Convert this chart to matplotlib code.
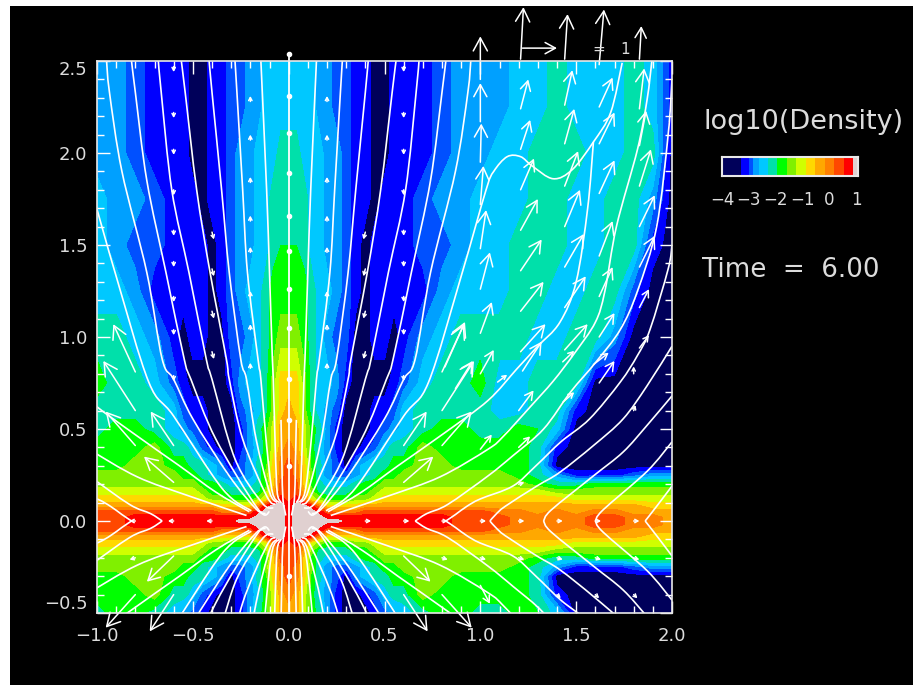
import numpy as np
import matplotlib
matplotlib.use("Agg")
import matplotlib.pyplot as plt
from matplotlib.patches import PathPatch, Rectangle
from matplotlib.path import Path

# Density table: colour band number (0 = navy ... 14 = grey)
# one quadrant only, x >= 0 and y >= 0, the other quadrants are mirrored
grid_x = [0, .04, .08, .12, .16, .2, .25, .3, .35, .4, .45, .5, .55, .6, .7, .8, .9, 1.0, 1.1, 1.2, 1.3, 1.4, 1.5,
          1.6, 1.7, 1.8, 1.9, 2.0]
grid_y = [0, .02, .05, .08, .12, .16, .2, .25, .3, .4, .5, .6, .75, 1.0, 1.25, 1.5, 1.75, 2.0, 2.25, 2.5]
density_band = [
    [13, 14, 14, 14, 14, 14, 14, 13, 13, 13, 13, 13, 13, 13, 13, 13, 12, 12, 12, 11, 11, 11, 11, 12, 12, 11, 11, 10],
    [13, 14, 14, 14, 14, 13, 13, 13, 13, 13, 13, 13, 13, 13, 13, 13, 12, 12, 12, 11, 11, 11, 11, 12, 12, 11, 11, 10],
    [13, 14, 14, 14, 13, 12, 11, 11, 11, 12, 12, 12, 12, 12, 12, 12, 12, 12, 11, 11, 10, 11, 10, 11, 11, 10, 10, 10],
    [13, 14, 14, 13, 11, 9, 9, 9, 9, 10, 10, 10, 10, 10, 10, 10, 10, 10, 10, 10, 10, 10, 10, 10, 10, 10, 9, 9],
    [12, 13, 11, 8, 7, 6, 6, 6, 7, 7, 8, 9, 9, 9, 9, 9, 9, 9, 9, 9, 9, 9, 8, 8, 8, 8, 8, 8],
    [12, 12, 10, 7, 5, 5, 5, 5, 6, 6, 7, 8, 8, 8, 8, 8, 8, 8, 8, 8, 8, 7, 7, 7, 7, 7, 7, 7],
    [12, 12, 9, 6, 5, 4, 4, 4, 5, 6, 6, 7, 7, 7, 7, 7, 7, 7, 7, 7, 6, 5, 5, 6, 6, 6, 6, 6],
    [12, 11, 9, 7, 4, 3, 2, 2, 3, 4, 5, 6, 6, 7, 7, 7, 7, 7, 7, 6, 5, 3, 1, 1, 1, 2, 3, 3],
    [12, 11, 9, 6, 5, 3, 2, 0, 3, 4, 5, 5, 6, 6, 7, 7, 6, 6, 6, 6, 5, 0, 0, 0, 0, 0, 0, 0],
    [11, 10, 8, 6, 4, 3, 1, 0, 0, 1, 2, 4, 5, 5, 7, 6, 6, 6, 6, 6, 5, 1, 0, 0, 0, 0, 0, 0],
    [10, 10, 8, 6, 5, 3, 1, 0, 0, 0, 1, 2, 3, 4, 5, 6, 6, 5, 5, 6, 5.5, 4, 0, 0, 0, 0, 0, 0],
    [10, 9, 7, 5, 4, 3, 2, 0, 0, 0, 1, 1, 2, 4, 5, 5, 5, 5, 4, 4, 5, 5, 1, 0, 0, 0, 0, 0],
    [9, 9, 7, 5, 4, 4, 3, 1, 0, 0, 0, 0, 1, 2, 4, 5, 5, 6, 4, 4, 5, 5, 5, 0, 0, 0, 0, 0],
    [7, 7, 6, 5, 4, 3, 2, 2, 0, 0, 1, 1, 0, 1, 3, 4, 5, 5, 5, 5, 4, 4, 5, 5, 3, 0, 0, 0],
    [6, 6, 6, 5, 4, 4, 3, 2, 1, 0, 1, 1, 1, 1, 1, 3, 4, 4, 4, 5, 5, 4, 4, 5, 5, 2, 0, 0],
    [5.5, 5.5, 5, 4, 4, 3, 3, 2, 1, 0, 1, 1, 1, 1, 2, 2, 3, 4, 4, 5, 5, 5, 4, 4, 5, 5, 1, 0],
    [5, 5, 5, 4, 4, 3, 3, 2, 1, 1, 0, 1, 1, 1, 2, 3, 3, 4, 4, 4, 5, 5, 4, 4, 5, 5, 3, 0],
    [5, 5, 4, 4, 4, 3, 3, 2, 1, 1, 0, 0, 1, 1, 1, 2, 3, 3, 4, 4, 5, 5, 5, 4, 4, 5, 5, 0],
    [4, 4, 4, 4, 3, 3, 2, 2, 1, 1, 0, 0, 1, 1, 1, 2, 3, 3, 3, 4, 4, 5, 4, 4, 4, 5, 4, 1],
    [4, 4, 4, 4, 3, 3, 2, 2, 1, 1, 0, 0, 1, 1, 1, 2, 3, 3, 3, 4, 4, 5, 4, 4, 4, 5, 4, 1],
]
band_colors = ["#00005a", "#0000ff", "#0050ff", "#00a0ff", "#00c8ff", "#00e0aa", "#00ff00", "#80f000", "#d0ff00",
               "#ffd800", "#ffa800", "#ff8000", "#ff4800", "#ff0000", "#e0d0d0"]
# Edges of the colour bands on the colour bar, log10(Density)
band_edges = [-4, -3.3, -3.0, -2.85, -2.63, -2.3, -1.95, -1.59, -1.24, -0.89, -0.53, -0.18, 0.18, 0.53, 0.88, 1.06]
bar_ticks = [-4, -3, -2, -1, 0, 1]

# Field lines in the upper right quadrant, as (x, y)
field_lines = [
    [(.015, .03), (.03, .12), (.035, .3), (.04, .55)],
    [(.145, 2.5), (.115, 1.8), (.10, 1.35), (.085, .88), (.08, .77), (.07, .4), (.06, .157), (.04, .1)],
    [(.28, 2.5), (.27, 2.33), (.24, 1.8), (.215, 1.35), (.16, .88), (.145, .77), (.115, .41), (.085, .157), (.05, .1)],
    [(.415, 2.5), (.40, 2.33), (.35, 1.8), (.31, 1.35), (.25, .88), (.22, .77), (.17, .445), (.10, .157), (.06, .1)],
    [(.56, 2.5), (.54, 2.33), (.48, 1.8), (.41, 1.35), (.325, .88), (.31, .77), (.24, .445), (.115, .136), (.07, .09)],
    [(.68, 2.5), (.665, 2.33), (.61, 1.8), (.52, 1.35), (.43, .88), (.40, .77), (.28, .337), (.14, .10), (.08, .07)],
    [(.82, 2.5), (.80, 2.33), (.74, 1.85), (.64, 1.35), (.545, .88), (.51, .77), (.38, .445), (.16, .065), (.10, .05)],
    [(.95, 2.5), (.935, 2.33), (.87, 1.9), (.74, 1.35), (.66, .88), (.60, .77), (.50, .555), (.31, .245), (.17, .065),
     (.12, .04)],
    [(.195, .055), (.345, .174), (.60, .57), (.73, .755), (.90, 1.33), (1.03, 1.80), (1.07, 1.90), (1.14, 1.98),
     (1.21, 1.98), (1.27, 1.93), (1.38, 1.86), (1.48, 1.91), (1.59, 2.06), (1.68, 2.22), (1.74, 2.49)],
    [(.205, .05), (.38, .157), (.57, .30), (.815, .48), (1.04, .655), (1.19, .826), (1.295, .945),
     (1.415, 1.08), (1.50, 1.3), (1.56, 1.7), (1.59, 2.06)],
    [(.22, .03), (.52, .136), (.79, .24), (1.04, .39), (1.12, .46), (1.26, .62), (1.38, .76), (1.49, .91), (1.60, 1.08),
     (1.65, 1.25), (1.71, 1.6), (1.82, 2.02), (1.87, 2.29), (1.895, 2.5)],
    [(.66, 0), (.72, .04), (.83, .09), (1.04, .245), (1.17, .355), (1.33, .50), (1.47, .70), (1.60, .86), (1.73, 1.04),
     (1.82, 1.25), (1.92, 1.6), (1.98, 2.1), (2.0, 2.4)],
    [(.82, 0), (.87, .035), (.93, .08), (1.0, .12), (1.17, .19), (1.29, .30), (1.42, .43), (1.57, .555), (1.73, .755),
     (1.82, .90), (1.885, 1.04), (1.98, 1.37), (2.0, 1.5)],
    [(1.05, 0), (1.08, .035), (1.13, .08), (1.295, .19), (1.415, .265), (1.59, .41), (1.745, .555), (1.87, .735),
     (2.0, .95)],
    [(1.33, 0), (1.37, .06), (1.59, .245), (1.745, .375), (1.87, .52), (2.0, .68)],
    [(1.6, 0), (1.64, .06), (1.87, .27), (2.0, .43)],
    [(1.86, 0), (1.92, .08), (2.0, .19)],
]

# Velocity arrows: tail x, tail y, u, v
arrows_right = [
    (1.0, 2.40, 0, .234), (1.0, 2.17, 0, .21), (1.0, 1.95, .005, .21), (1.0, 1.72, .016, .21), (1.0, 1.48, .03, .21),
    (1.0, 1.26, .05, .2), (1.0, 1.02, .06, .17), (1.0, .80, .07, .13),
    (1.21, 2.51, .015, .283), (1.21, 2.24, .04, .16), (1.21, 2.02, .05, .16), (1.21, 1.80, .07, .17),
    (1.21, 1.58, .09, .17), (1.21, 1.36, .11, .17), (1.21, 1.14, .12, .16), (1.21, .92, .13, .15),
    (1.44, 2.51, .015, .245), (1.44, 2.26, .04, .19), (1.44, 2.05, .05, .19), (1.44, 1.82, .07, .19),
    (1.44, 1.60, .08, .2), (1.44, 1.38, .1, .18), (1.44, 1.16, .11, .17), (1.44, .93, .12, .14),
    (1.62, 2.48, .025, .30), (1.62, 2.25, .07, .16), (1.62, 2.05, .08, .17), (1.62, 1.78, .08, .18),
    (1.62, 1.44, .07, .19), (1.62, 1.22, .07, .16), (1.62, 1.0, .08, .13), (1.62, .75, .08, .12),
    (1.83, 2.51, .01, .18), (1.83, 2.24, .025, .22), (1.83, 2.04, .035, .19), (1.83, 1.82, .06, .2),
    (1.83, 1.60, .08, .17), (1.83, 1.38, .08, .17), (1.83, 1.16, .05, .1), (1.83, .94, .05, .07),
    (1.2, .60, .078, .11), (1.0, .39, .06, .08), (1.2, .40, .06, .06), (1.09, .755, .05, .04), (1.22, .815, .10, .16),
    (1.43, .865, .06, .06), (1.43, .645, .06, .055), (1.59, .85, .08, .065), (.815, .837, .105, .245),
    (.87, .72, .09, .15), (1.0, -.35, .05, -.1),
]
# These ones are also drawn on the left side
arrows_both = [
    (.6, .41, .12, .185), (.8, .41, .155, .185), (.6, .21, .155, .14), (.8, .6, .167, .27), (.8, .81, .115, .26),
    (.6, -.19, .14, -.14), (.6, -.40, .125, -.2), (.8, -.40, .155, -.18),
]
tiny_arrows = [
    (.2, 2.28, 0, .03), (.2, 2.07, 0, .03), (.2, 1.84, 0, .03), (.2, 1.63, 0, .03), (.2, 1.46, 0, .03),
    (.2, 1.22, 0, .03), (.2, 1.04, 0, .03), (.2, .83, 0, .03),
    (.4, 1.57, -.01, -.04), (.4, 1.37, -.01, -.04), (.4, 1.14, -.01, -.04), (.4, .92, -.01, -.04),
    (.6, 2.47, 0, -.03), (.6, 2.22, 0, -.03), (.6, 2.02, 0, -.03), (.6, 1.80, 0, -.03), (.6, 1.58, 0, -.03),
    (.6, 1.41, 0, -.03), (.6, 1.22, 0, -.03), (.6, 1.04, 0, -.03), (.6, .79, 0, -.03),
    (.4, 0, .03, 0), (.6, 0, .03, 0), (.8, 0, .03, 0), (.8, -.2, .03, -.01),
]
tiny_right = [
    (1.0, 0, .03, 0), (1.2, 0, .03, 0), (1.4, 0, .03, 0), (1.6, 0, .03, 0), (1.8, 0, .03, 0), (1.0, -.2, .03, -.01),
    (1.2, -.2, .03, -.01), (1.4, -.2, .03, -.01), (1.6, -.2, .03, -.01), (1.8, -.2, .03, -.01), (1.4, -.4, .02, -.02),
    (1.6, -.4, .02, -.02), (1.8, -.4, .02, -.02), (1.2, .2, .03, .01), (1.8, .6, .01, .03), (1.8, .8, .0, .04),
]
center_dots_y = [2.54, 2.31, 2.11, 1.89, 1.66, 1.47, 1.26, 1.05, .77, .55, .3, -.3]

x_ticks = [-1.0, -0.5, 0.0, 0.5, 1.0, 1.5, 2.0]
y_ticks = [-0.5, 0.0, 0.5, 1.0, 1.5, 2.0, 2.5]
label_color = "#dcdcdc"


def draw_arrow(ax, x, y, u, v, color="white"):
    # Head size follows the arrow length, like the old IDL velovect arrows
    size = min(17, max(4, 75 * np.hypot(u, v)))
    ax.annotate("", xy=(x + u, y + v), xytext=(x, y), annotation_clip=False,
                arrowprops=dict(arrowstyle="->,head_length=0.55,head_width=0.3", color=color, lw=1.1,
                                mutation_scale=size, shrinkA=0, shrinkB=0))


def draw_line(ax, xs, ys):
    # Round the corners between the read points with Bezier segments
    pts = np.column_stack((xs, ys))
    verts = [pts[0]]
    codes = [Path.MOVETO]
    for i in range(len(pts) - 1):
        before = pts[max(i - 1, 0)]
        after = pts[min(i + 2, len(pts) - 1)]
        verts += [pts[i] + (pts[i + 1] - before) / 6, pts[i + 1] - (after - pts[i]) / 6, pts[i + 1]]
        codes += [Path.CURVE4, Path.CURVE4, Path.CURVE4]
    ax.add_patch(PathPatch(Path(verts, codes), facecolor="none", edgecolor="white", lw=1.2))


W, H = 913, 685
fig = plt.figure(figsize=(W / 100, H / 100), dpi=100, facecolor="white")
fig.patches.append(Rectangle((10 / W, 0), 1, 1 - 6 / H, transform=fig.transFigure, facecolor="black", edgecolor="none",
                             zorder=-1))

ax = fig.add_axes([97 / W, 1 - 613 / H, 575 / W, 552 / H], facecolor="black")

# Mirror the table to the full plotted area
gx = np.array(grid_x)
gy = np.array(grid_y)
band = np.array(density_band, dtype=float)
keep_x = gx[gx <= 1.0]
keep_y = gy[gy <= 0.5]
full_x = np.concatenate((-keep_x[:0:-1], gx))
full_y = np.concatenate((-keep_y[:0:-1], gy))
band = np.hstack((band[:, 1:len(keep_x)][:, ::-1], band))
band = np.vstack((band[1:len(keep_y)][::-1], band))
ax.contourf(full_x, full_y, band, levels=np.arange(-0.5, 15), colors=band_colors, antialiased=False)

# Field lines, mirrored up/down and left/right
for line in field_lines:
    xs = np.array([p[0] for p in line])
    ys = np.array([p[1] for p in line])
    draw_line(ax, xs, ys)
    draw_line(ax, xs, -ys)
    draw_line(ax, -xs, ys)
    draw_line(ax, -xs, -ys)

# Central line runs a little over the top of the box
ax.plot([0, 0], [-.5, 2.54], color="white", lw=1.3, clip_on=False)
ax.plot(np.zeros(len(center_dots_y)), center_dots_y, "o", color="white", ms=3, clip_on=False)

for x, y, u, v in arrows_right + tiny_right:
    draw_arrow(ax, x, y, u, v)
for x, y, u, v in arrows_both + tiny_arrows:
    draw_arrow(ax, x, y, u, v)
    draw_arrow(ax, -x, y, -u, v)

# Unit arrow above the box
draw_arrow(ax, 1.22, 2.57, .18, 0)
ax.text(1.62, 2.565, "=", color=label_color, fontsize=11, ha="center", va="center", clip_on=False)
ax.text(1.755, 2.565, "1", color=label_color, fontsize=11, ha="center", va="center", clip_on=False)

ax.set_xlim(-1, 2)
ax.set_ylim(-.5, 2.5)
ax.set_xticks(x_ticks)
ax.set_yticks(y_ticks)
ax.set_xticks(np.arange(-1, 2.01, .1), minor=True)
ax.set_yticks(np.arange(-.5, 2.51, .1), minor=True)
ax.tick_params(which="major", direction="in", length=9, width=1, color="white", top=True, right=True,
               labelcolor=label_color, labelsize=13)
ax.tick_params(which="minor", direction="in", length=5, width=1, color="white", top=True, right=True)
ax.tick_params(axis="x", which="major", pad=10)
ax.tick_params(axis="y", which="major", pad=7)
# End labels sit inside the box height in the reference
y_labels = ax.get_yticklabels()
y_labels[0].set_verticalalignment("bottom")
y_labels[-1].set_verticalalignment("top")
for s in ax.spines.values():
    s.set_color("#e8e8e8")
    s.set_linewidth(1.2)
    s.set_zorder(5)

# Colour bar
cax = fig.add_axes([722 / W, 1 - 176 / H, 136 / W, 19 / H], facecolor="black")
edges = np.array(band_edges)
cax.pcolormesh(edges, [0, 1], np.arange(15).reshape(1, 15), cmap=matplotlib.colors.ListedColormap(band_colors),
               vmin=-.5, vmax=14.5)
cax.set_xlim(edges[0], edges[-1])
cax.set_yticks([])
cax.set_xticks(bar_ticks)
cax.tick_params(axis="x", length=0, pad=11, labelcolor=label_color, labelsize=12)
for s in cax.spines.values():
    s.set_color("#e8e8e8")
    s.set_linewidth(1.5)

fig.text(804 / W, 1 - 122 / H, "log10(Density)", color=label_color, fontsize=19.5, ha="center", va="center")
fig.text(702 / W, 1 - 270 / H, "Time  =  6.00", color=label_color, fontsize=18.8, ha="left", va="center")

fig.savefig("out.png", dpi=100, facecolor=fig.get_facecolor())
